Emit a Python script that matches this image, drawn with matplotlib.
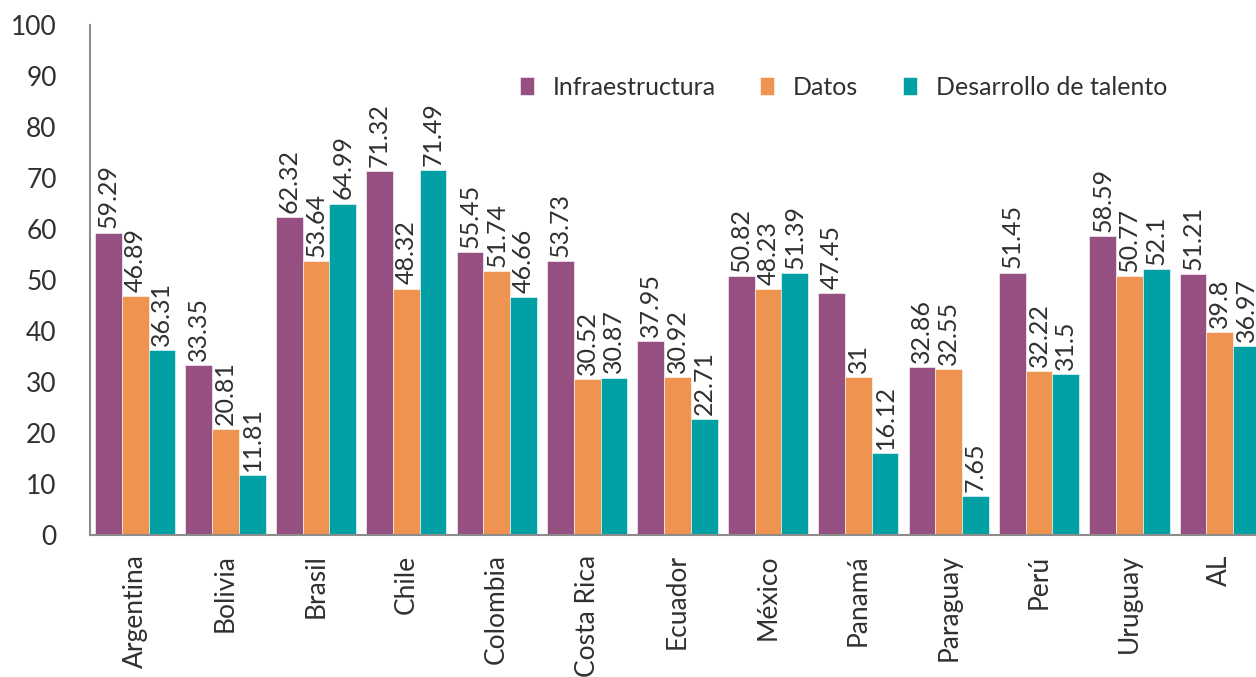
import matplotlib
matplotlib.use("Agg")
import matplotlib.pyplot as plt
import numpy as np

countries = ["Argentina", "Bolivia", "Brasil", "Chile", "Colombia", "Costa Rica",
             "Ecuador", "México", "Panamá", "Paraguay", "Perú", "Uruguay", "AL"]
infraestructura = [59.29, 33.35, 62.32, 71.32, 55.45, 53.73, 37.95, 50.82, 47.45, 32.86, 51.45, 58.59, 51.21]
datos = [46.89, 20.81, 53.64, 48.32, 51.74, 30.52, 30.92, 48.23, 31, 32.55, 32.22, 50.77, 39.8]
talento = [36.31, 11.81, 64.99, 71.49, 46.66, 30.87, 22.71, 51.39, 16.12, 7.65, 31.5, 52.1, 36.97]
series_names = ["Infraestructura", "Datos", "Desarrollo de talento"]
colors = ["#954F80", "#EE9450", "#00A0A5"]

plt.rcParams["font.family"] = ["Lato", "DejaVu Sans"]
text_col = "#303030"

fig = plt.figure(figsize=(12.56, 6.77), dpi=100)
ax = fig.add_axes([90 / 1256, 1 - 535 / 677, 1 - 90 / 1256, 510 / 677])

x = np.arange(len(countries))
w = 0.296
for i, (vals, name, col) in enumerate(zip([infraestructura, datos, talento], series_names, colors)):
    pos = x + (i - 1) * w
    ax.bar(pos, vals, width=w, color=col, edgecolor="white", linewidth=0.4, label=name, clip_on=False)
    for px, v in zip(pos, vals):
        ax.annotate(f"{v:g}", (px, v), xytext=(0, 3), textcoords="offset points",
                    rotation=90, ha="center", va="bottom", fontsize=18, color=text_col,
                    annotation_clip=False)

ax.set_xlim(-0.5, 12.4)
ax.set_ylim(0, 100)
ax.set_yticks(range(0, 101, 10))
ax.set_xticks(x)
ax.set_xticklabels(countries, rotation=90, fontsize=19, color=text_col)
ax.tick_params(axis="y", length=0, pad=24, labelsize=19, labelcolor=text_col)
ax.tick_params(axis="x", length=0, pad=14)
for s in ["top", "right"]:
    ax.spines[s].set_visible(False)
for s in ["left", "bottom"]:
    ax.spines[s].set_color("#8c8c8c")
    ax.spines[s].set_linewidth(1.5)

ax.legend(loc="center left", bbox_to_anchor=(0.36, 0.878), ncol=3, frameon=False,
          fontsize=18, handlelength=0.55, handleheight=0.75, handletextpad=0.75,
          columnspacing=1.8, borderaxespad=0, labelcolor=text_col)

fig.savefig("out.png", dpi=100)
